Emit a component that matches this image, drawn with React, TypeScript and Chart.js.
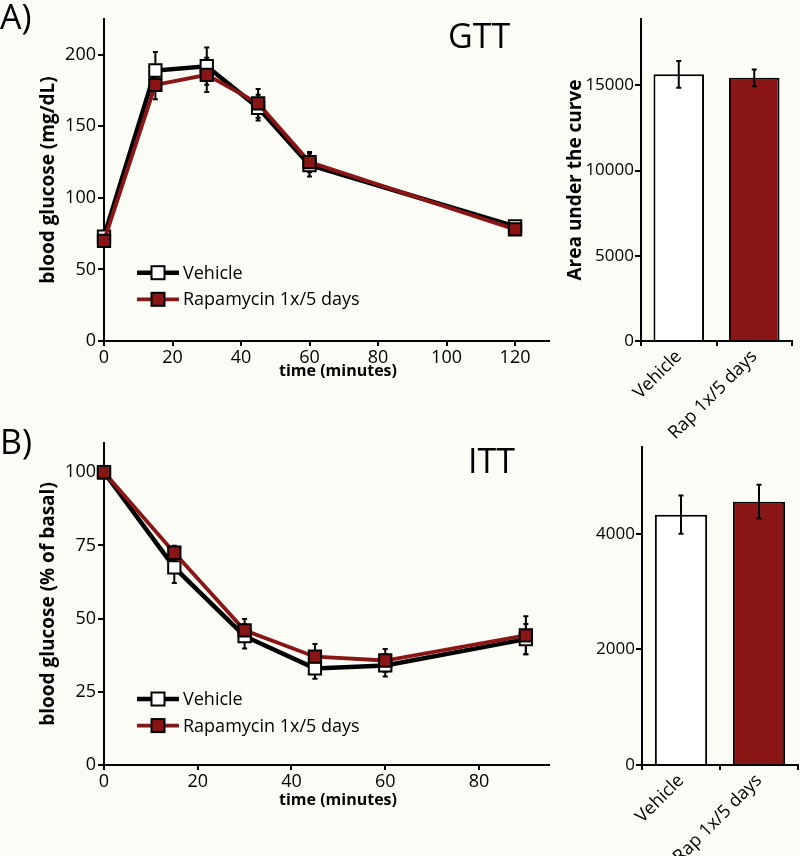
import React, { useEffect, useRef } from "react";
import { Chart, registerables } from "chart.js";

Chart.register(...registerables);

const FONT = "'Open Sans', 'DejaVu Sans', sans-serif";
const RED = "#8a1515";
const BG = "#fcfcf7";

// ---- Data ----
const legendLabels = ["Vehicle", "Rapamycin 1x/5 days"];
const barGroups = ["Vehicle", "Rap 1x/5 days"];

// GTT
const gttTimes = [0, 15, 30, 45, 60, 120];
const gttVehicle = [73, 189, 192, 163, 123, 80];
const gttVehicleErr = [4, 13, 13, 9, 8, 2];
const gttRapa = [70, 179, 186, 166, 125, 78];
const gttRapaErr = [3, 10, 12, 10, 7, 2];
const gttXTicks = [0, 20, 40, 60, 80, 100, 120];
const gttYTicks = [0, 50, 100, 150, 200];

// GTT area under the curve
const gttAuc = [15650, 15450];
const gttAucErr = [780, 490];
const gttAucTicks = [0, 5000, 10000, 15000];

// ITT
const ittTimes = [0, 15, 30, 45, 60, 90];
const ittVehicle = [100, 67.5, 44, 33, 34, 43];
const ittVehicleErr = [0, 5.3, 4.2, 3.5, 3.8, 5.2];
const ittRapa = [100, 72.5, 46, 37, 35.7, 44.3];
const ittRapaErr = [0, 2.4, 3.9, 4.3, 3.9, 6.5];
const ittXTicks = [0, 20, 40, 60, 80];
const ittYTicks = [0, 25, 50, 75, 100];

// ITT area under the curve
const ittAuc = [4330, 4555];
const ittAucErr = [330, 290];
const ittAucTicks = [0, 2000, 4000];

// ---- Plugins ----
function drawErrorBars(chart: any, opts: any) {
  const ctx = chart.ctx;
  const yScale = chart.scales.y;
  chart.data.datasets.forEach((ds: any, i: number) => {
    const errs = ds.errorBars;
    if (!errs) return;
    const meta = chart.getDatasetMeta(i);
    meta.data.forEach((el: any, j: number) => {
      const e = errs[j];
      if (!e) return;
      const v = meta.controller.getParsed(j).y;
      const x = el.x;
      const y1 = yScale.getPixelForValue(v + e);
      const y2 = yScale.getPixelForValue(v - e);
      const c = opts.cap || 2.5;
      ctx.save();
      ctx.strokeStyle = "#000";
      ctx.lineWidth = opts.width || 2;
      ctx.beginPath();
      ctx.moveTo(x, y1);
      ctx.lineTo(x, y2);
      ctx.moveTo(x - c, y1);
      ctx.lineTo(x + c, y1);
      ctx.moveTo(x - c, y2);
      ctx.lineTo(x + c, y2);
      ctx.stroke();
      ctx.restore();
    });
  });
}

const errorBarPlugin = {
  id: "errorBars",
  beforeDatasetsDraw(chart: any, _a: any, opts: any) {
    if (opts && opts.phase === "before") drawErrorBars(chart, opts);
  },
  afterDatasetsDraw(chart: any, _a: any, opts: any) {
    if (opts && opts.phase === "after") drawErrorBars(chart, opts);
  },
};

const lineLegendPlugin = {
  id: "lineLegend",
  afterDraw(chart: any, _a: any, opts: any) {
    if (!opts || opts.x === undefined) return;
    const ctx = chart.ctx;
    chart.data.datasets.forEach((ds: any, i: number) => {
      const y = opts.y + i * opts.gap;
      ctx.save();
      ctx.strokeStyle = ds.borderColor;
      ctx.lineWidth = ds.borderWidth;
      ctx.beginPath();
      ctx.moveTo(opts.x, y);
      ctx.lineTo(opts.x + 42, y);
      ctx.stroke();
      const s = 13;
      ctx.fillStyle = ds.pointBackgroundColor;
      ctx.fillRect(opts.x + 21 - s / 2, y - s / 2, s, s);
      ctx.strokeStyle = "#000";
      ctx.lineWidth = 2;
      ctx.strokeRect(opts.x + 21 - s / 2, y - s / 2, s, s);
      ctx.fillStyle = "#000";
      ctx.font = `18px ${FONT}`;
      ctx.textBaseline = "middle";
      ctx.textAlign = "left";
      ctx.fillText(ds.label, opts.x + 46, y + 1);
      ctx.restore();
    });
  },
};

// Axis title drawn at a chosen centre (the figure's x title is not centred on the axis)
const xTitlePlugin = {
  id: "xTitle",
  afterDraw(chart: any, _a: any, opts: any) {
    if (!opts || !opts.text) return;
    const ctx = chart.ctx;
    ctx.save();
    ctx.fillStyle = "#000";
    ctx.font = `bold 16px ${FONT}`;
    ctx.textAlign = "center";
    ctx.textBaseline = "middle";
    ctx.fillText(opts.text, opts.x, opts.y);
    ctx.restore();
  },
};

Chart.register(errorBarPlugin as any, lineLegendPlugin as any, xTitlePlugin as any);

// ---- Config builders ----
type LineArgs = {
  times: number[];
  vehicle: number[];
  vehicleErr: number[];
  rapa: number[];
  rapaErr: number[];
  xMax: number;
  yMax: number;
  xTicks: number[];
  yTicks: number[];
  yTitle: string;
  padTop: number;
  padRight: number;
  yAxisW: number;
  xAxisH: number;
  xTitleY: number;
  yTitlePad: number;
  legendY: number;
};

function lineConfig(a: LineArgs): any {
  const pointCommon = {
    pointStyle: "rect",
    pointRadius: 8.7,
    pointBorderWidth: 2,
    pointBorderColor: "#000",
    tension: 0,
    clip: false,
  };
  return {
    type: "line",
    data: {
      datasets: [
        {
          label: legendLabels[0],
          data: a.times.map((t, i) => ({ x: t, y: a.vehicle[i] })),
          errorBars: a.vehicleErr,
          borderColor: "#000",
          borderWidth: 4.5,
          backgroundColor: "#fff",
          pointBackgroundColor: "#fff",
          order: 2,
          ...pointCommon,
        },
        {
          label: legendLabels[1],
          data: a.times.map((t, i) => ({ x: t, y: a.rapa[i] })),
          errorBars: a.rapaErr,
          borderColor: RED,
          borderWidth: 3.8,
          backgroundColor: RED,
          pointBackgroundColor: RED,
          order: 1,
          ...pointCommon,
        },
      ],
    },
    options: {
      responsive: false,
      animation: false,
      events: [],
      layout: { padding: { top: a.padTop, right: a.padRight, left: 0, bottom: 0 } },
      plugins: {
        legend: { display: false },
        tooltip: { enabled: false },
        errorBars: { phase: "before", cap: 2.5, width: 2 },
        lineLegend: { x: 137, y: a.legendY, gap: 26.6 },
        xTitle: { text: "time (minutes)", x: 338, y: a.xTitleY },
      },
      scales: {
        x: {
          type: "linear",
          min: 0,
          max: a.xMax,
          afterBuildTicks: (s: any) => {
            s.ticks = a.xTicks.map((v) => ({ value: v }));
          },
          afterFit: (s: any) => {
            s.height = a.xAxisH;
          },
          border: { display: true, color: "#000", width: 2 },
          grid: { display: true, drawOnChartArea: false, drawTicks: true, tickLength: 5, color: "#000", lineWidth: 2 },
          ticks: { color: "#000", font: { family: FONT, size: 18 }, padding: 1, maxRotation: 0, autoSkip: false },
          title: { display: false },
        },
        y: {
          type: "linear",
          min: 0,
          max: a.yMax,
          afterBuildTicks: (s: any) => {
            s.ticks = a.yTicks.map((v) => ({ value: v }));
          },
          afterFit: (s: any) => {
            s.width = a.yAxisW;
          },
          border: { display: true, color: "#000", width: 2 },
          grid: { display: true, drawOnChartArea: false, drawTicks: true, tickLength: 6, color: "#000", lineWidth: 2 },
          ticks: { color: "#000", font: { family: FONT, size: 18 }, padding: 2, autoSkip: false },
          title: {
            display: true,
            text: a.yTitle,
            color: "#000",
            font: { family: FONT, size: 19, weight: "bold" },
            padding: { top: a.yTitlePad, bottom: 0 },
          },
        },
      },
    },
  };
}

type BarArgs = {
  values: number[];
  errs: number[];
  yMax: number;
  yTicks: number[];
  yTitle: string;
  padTop: number;
  padRight: number;
  yAxisW: number;
  xAxisH: number;
  yTitlePad: number;
};

function barConfig(a: BarArgs): any {
  return {
    type: "bar",
    data: {
      labels: barGroups,
      datasets: [
        {
          data: a.values,
          errorBars: a.errs,
          backgroundColor: ["#ffffff", RED],
          borderColor: "#000",
          borderWidth: 2,
          borderSkipped: "start",
          categoryPercentage: 1,
          barPercentage: 0.67,
        },
      ],
    },
    options: {
      responsive: false,
      animation: false,
      events: [],
      layout: { padding: { top: a.padTop, right: a.padRight, left: 0, bottom: 0 } },
      plugins: {
        legend: { display: false },
        tooltip: { enabled: false },
        errorBars: { phase: "after", cap: 2.5, width: 2 },
        lineLegend: {},
        xTitle: {},
      },
      scales: {
        x: {
          type: "category",
          offset: true,
          afterFit: (s: any) => {
            s.height = a.xAxisH;
          },
          border: { display: true, color: "#000", width: 2 },
          grid: { display: true, offset: true, drawOnChartArea: false, drawTicks: true, tickLength: 5, color: "#000", lineWidth: 2 },
          ticks: { color: "#000", font: { family: FONT, size: 18 }, padding: 0, minRotation: 45, maxRotation: 45, autoSkip: false },
        },
        y: {
          type: "linear",
          min: 0,
          max: a.yMax,
          afterBuildTicks: (s: any) => {
            s.ticks = a.yTicks.map((v) => ({ value: v }));
          },
          afterFit: (s: any) => {
            s.width = a.yAxisW;
          },
          border: { display: true, color: "#000", width: 2 },
          grid: { display: true, drawOnChartArea: false, drawTicks: true, tickLength: 6, color: "#000", lineWidth: 2 },
          ticks: {
            color: "#000",
            font: { family: FONT, size: 17 },
            padding: 1,
            autoSkip: false,
            callback: (v: any) => String(v),
          },
          title: {
            display: a.yTitle !== "",
            text: a.yTitle,
            color: "#000",
            font: { family: FONT, size: 19, weight: "bold" },
            padding: { top: a.yTitlePad, bottom: 0 },
          },
        },
      },
    },
  };
}

function ChartBox(props: { left: number; top: number; width: number; height: number; config: any }) {
  const ref = useRef<HTMLCanvasElement | null>(null);
  useEffect(() => {
    if (!ref.current) return;
    const chart = new Chart(ref.current, props.config);
    return () => chart.destroy();
  }, []);
  return (
    <canvas
      ref={ref}
      width={props.width}
      height={props.height}
      style={{ position: "absolute", left: props.left, top: props.top, width: props.width, height: props.height }}
    />
  );
}

const labelStyle = (left: number, top: number, size: number): React.CSSProperties => ({
  position: "absolute",
  left,
  top,
  fontFamily: FONT,
  fontSize: size,
  lineHeight: 1,
  color: "#000",
  whiteSpace: "nowrap",
});

export default function App() {
  const gttLine = lineConfig({
    times: gttTimes,
    vehicle: gttVehicle,
    vehicleErr: gttVehicleErr,
    rapa: gttRapa,
    rapaErr: gttRapaErr,
    xMax: 130,
    yMax: 225,
    xTicks: gttXTicks,
    yTicks: gttYTicks,
    yTitle: "blood glucose (mg/dL)",
    padTop: 19,
    padRight: 8,
    yAxisW: 104,
    xAxisH: 84,
    xTitleY: 371,
    yTitlePad: 37,
    legendY: 272.7,
  });
  const gttBar = barConfig({
    values: gttAuc,
    errs: gttAucErr,
    yMax: 18900,
    yTicks: gttAucTicks,
    yTitle: "Area under the curve",
    padTop: 19,
    padRight: 8,
    yAxisW: 81,
    xAxisH: 104,
    yTitlePad: 4,
  });
  const ittLine = lineConfig({
    times: ittTimes,
    vehicle: ittVehicle,
    vehicleErr: ittVehicleErr,
    rapa: ittRapa,
    rapaErr: ittRapaErr,
    xMax: 95,
    yMax: 110,
    xTicks: ittXTicks,
    yTicks: ittYTicks,
    yTitle: "blood glucose (% of basal)",
    padTop: 18,
    padRight: 7,
    yAxisW: 104,
    xAxisH: 91,
    xTitleY: 375,
    yTitlePad: 37,
    legendY: 274,
  });
  const ittBar = barConfig({
    values: ittAuc,
    errs: ittAucErr,
    yMax: 5500,
    yTicks: ittAucTicks,
    yTitle: "",
    padTop: 22,
    padRight: 2,
    yAxisW: 82,
    xAxisH: 91,
    yTitlePad: 4,
  });
  return (
    <div style={{ position: "absolute", left: 0, top: 0, width: 800, height: 856, background: BG, overflow: "hidden" }}>
      <ChartBox left={0} top={0} width={560} height={425} config={gttLine} />
      <ChartBox left={0} top={425} width={560} height={431} config={ittLine} />
      <ChartBox left={560} top={425} width={240} height={431} config={ittBar} />
      <ChartBox left={560} top={0} width={240} height={445} config={gttBar} />
      <div style={labelStyle(0, -1, 34)}>A)</div>
      <div style={labelStyle(448, 18, 34)}>GTT</div>
      <div style={labelStyle(0, 424, 34)}>B)</div>
      <div style={labelStyle(468, 443, 34)}>ITT</div>
    </div>
  );
}
